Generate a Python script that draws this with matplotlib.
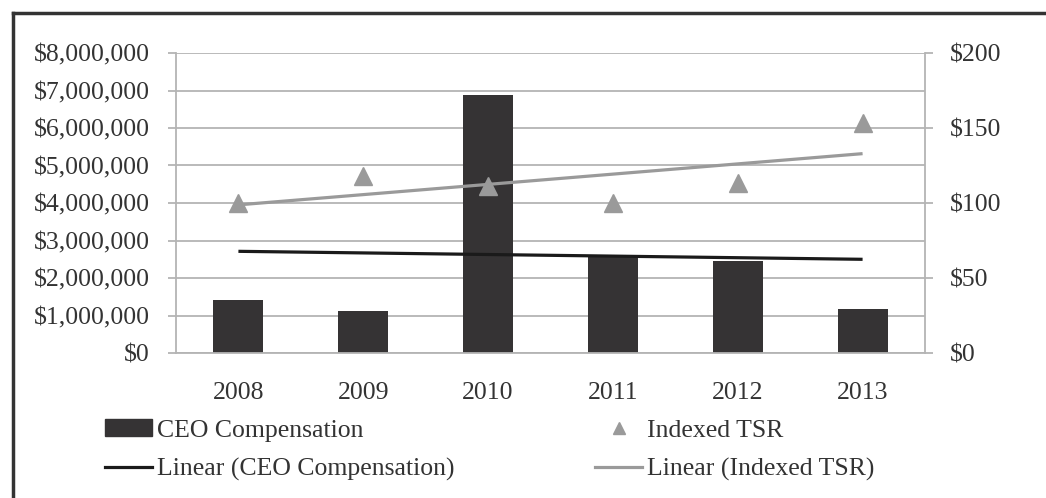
import numpy as np
import matplotlib.pyplot as plt
from matplotlib.lines import Line2D
from matplotlib.patches import Patch
from matplotlib.ticker import FuncFormatter

plt.rcParams['font.family'] = ['Liberation Serif', 'DejaVu Serif']
plt.rcParams['font.size'] = 18.5

years = ['2008', '2009', '2010', '2011', '2012', '2013']
ceo_comp = [1410000, 1130000, 6870000, 2590000, 2460000, 1170000]
tsr = [100, 118, 111, 100, 113, 153]

BAR = '#353334'
GREY = '#9a9a9a'
GRID = '#b4b4b4'
TXT = '#333333'

x = np.arange(len(years))
ceo_fit = np.polyval(np.polyfit(x, ceo_comp, 1), x)
tsr_fit = np.polyval(np.polyfit(x, tsr, 1), x)

W, H = 1046, 498
fig = plt.figure(figsize=(W / 100, H / 100), dpi=100)
ax = fig.add_axes([176 / W, 1 - 353 / H, 749 / W, 300 / H])
ax2 = ax.twinx()

ax.bar(x, ceo_comp, width=0.4, color=BAR, zorder=2)
ax.plot(x, ceo_fit, color='#1a1a1a', lw=2.3, zorder=3, solid_capstyle='butt')
ax2.plot(x, tsr_fit, color=GREY, lw=2.3, zorder=3, solid_capstyle='butt')
ax2.plot(x, tsr, ls='none', marker='^', ms=12.5, color=GREY, zorder=4)

ax.set_xlim(-0.5, len(years) - 0.5)
ax.set_ylim(0, 8000000)
ax.set_yticks(np.arange(0, 8000001, 1000000))
ax2.set_ylim(0, 200)
ax2.set_yticks(np.arange(0, 201, 50))
ax.yaxis.set_major_formatter(FuncFormatter(lambda v, p: f'${v:,.0f}'))
ax2.yaxis.set_major_formatter(FuncFormatter(lambda v, p: f'${v:,.0f}'))
ax.set_xticks(x)
ax.set_xticklabels(years)

ax.grid(axis='y', color=GRID, lw=1.3, zorder=0)
ax.set_axisbelow(True)
for a in (ax, ax2):
    for s in a.spines.values():
        s.set_visible(False)
ax.spines['left'].set_visible(True)
ax.spines['left'].set_color(GRID)
ax.spines['left'].set_linewidth(1.3)
ax2.spines['right'].set_visible(True)
ax2.spines['right'].set_color(GRID)
ax2.spines['right'].set_linewidth(1.3)
ax.spines['bottom'].set_visible(True)
ax.spines['bottom'].set_color(GRID)
ax.spines['bottom'].set_linewidth(1.3)

ax.tick_params(axis='y', length=6, width=1.3, color=GRID, pad=13, labelcolor=TXT)
ax2.tick_params(axis='y', length=6, width=1.3, color=GRID, pad=12, labelcolor=TXT)
ax.tick_params(axis='x', length=0, pad=21, labelcolor=TXT)

# legend, two columns placed by hand
left_handles = [Patch(color=BAR), Line2D([], [], color='#1a1a1a', lw=2.3)]
right_handles = [Line2D([], [], ls='none', marker='^', ms=9, color=GREY),
                 Line2D([], [], color=GREY, lw=2.3)]
kw = dict(frameon=False, loc='upper left', borderpad=0, borderaxespad=0,
          handlelength=1.83, handletextpad=0.2, labelspacing=0.65,
          handleheight=0.65, labelcolor=TXT)
fig.legend(left_handles, ['CEO Compensation', 'Linear (CEO Compensation)'],
           bbox_to_anchor=(105 / W, 1 - 419 / H), **kw)
fig.legend(right_handles, ['Indexed TSR', 'Linear (Indexed TSR)'],
           bbox_to_anchor=(595 / W, 1 - 419 / H), **kw)

# dark frame on the top and left
fig.add_artist(Line2D([13 / W, 13 / W], [0, 1 - 13 / H], color='#333333', lw=2.5))
fig.add_artist(Line2D([13 / W, 1], [1 - 13 / H, 1 - 13 / H], color='#333333', lw=2.5))

fig.savefig('out.png', dpi=100)
